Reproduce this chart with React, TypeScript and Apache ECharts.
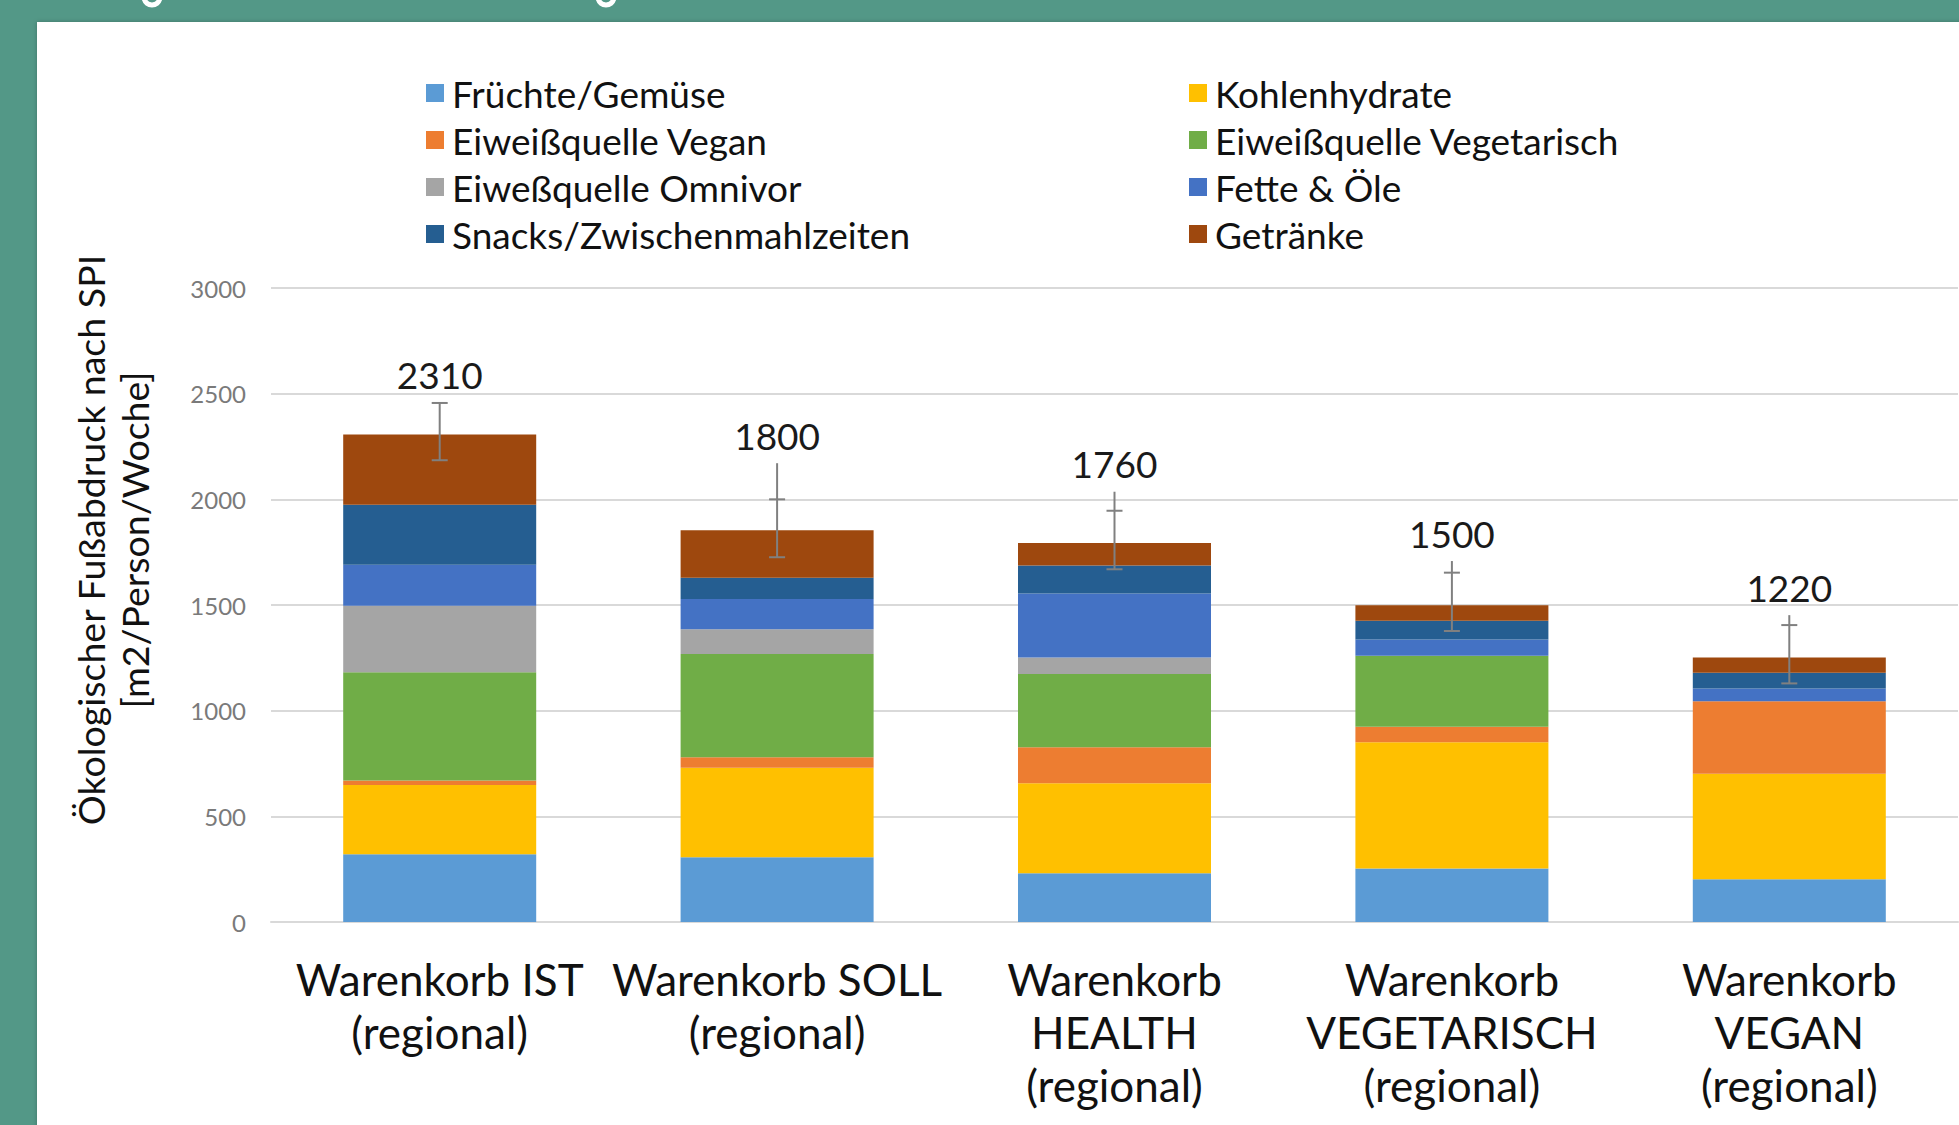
import React, { useEffect, useRef } from "react";
import * as echarts from "echarts";

const categories = [
  "Warenkorb IST\n(regional)",
  "Warenkorb SOLL\n(regional)",
  "Warenkorb\nHEALTH\n(regional)",
  "Warenkorb\nVEGETARISCH\n(regional)",
  "Warenkorb\nVEGAN\n(regional)",
];
const fruechte = [320, 306, 231, 253, 202];
const kohlenhydrate = [328, 424, 425, 597, 500];
const eiweissVegan = [21, 49, 171, 74, 343];
const eiweissVegetarisch = [513, 489, 347, 336, 0];
const eiweissOmnivor = [315, 117, 77, 0, 0];
const fette = [193, 143, 304, 77, 60];
const snacks = [284, 101, 132, 88, 74];
const getraenke = [333, 225, 106, 74, 73];
const totalLabels = [2310, 1800, 1760, 1500, 1220];
const errLow = [2185, 1726, 1669, 1377, 1129];
const errCap = [2456, 2000, 1946, 1653, 1405];
const errHigh = [2456, 2171, 2036, 1708, 1452];
const yTicks = { min: 0, max: 3000, interval: 500 };

const FONT = "Lato";

const seriesDefs = [
  { name: "Früchte/Gemüse", data: fruechte, color: "#5B9BD5" },
  { name: "Kohlenhydrate", data: kohlenhydrate, color: "#FFC000" },
  { name: "Eiweißquelle Vegan", data: eiweissVegan, color: "#ED7D31" },
  { name: "Eiweißquelle Vegetarisch", data: eiweissVegetarisch, color: "#70AD47" },
  { name: "Eiweßquelle Omnivor", data: eiweissOmnivor, color: "#A5A5A5" },
  { name: "Fette & Öle", data: fette, color: "#4472C4" },
  { name: "Snacks/Zwischenmahlzeiten", data: snacks, color: "#255E91" },
  { name: "Getränke", data: getraenke, color: "#9E480E" },
];

const legendLeft = ["Früchte/Gemüse", "Eiweißquelle Vegan", "Eiweßquelle Omnivor", "Snacks/Zwischenmahlzeiten"];
const legendRight = ["Kohlenhydrate", "Eiweißquelle Vegetarisch", "Fette & Öle", "Getränke"];

export default function App() {
  const ref = useRef<HTMLDivElement>(null);
  useEffect(() => {
    if (!ref.current) return;
    const chart = echarts.init(ref.current, null, { renderer: "svg" });
    const legendCommon = {
      orient: "vertical",
      top: 69,
      itemWidth: 18,
      itemHeight: 18,
      itemGap: 9,
      icon: "rect",
      selectedMode: false,
      textStyle: { fontFamily: FONT, fontSize: 37, color: "#111", lineHeight: 38, padding: [0, 0, 0, 3] },
    };
    const option: any = {
      animation: false,
      backgroundColor: "#539887",
      graphic: [
        {
          type: "rect",
          z: -10,
          shape: { x: 37, y: 22, width: 1930, height: 1110 },
          style: { fill: "#ffffff", shadowBlur: 4, shadowColor: "rgba(0,0,0,0.25)" },
        },
        {
          type: "arc",
          shape: { cx: 152, cy: -3, r: 8, startAngle: 0.2, endAngle: Math.PI - 0.2 },
          style: { stroke: "#ffffff", lineWidth: 5, fill: null },
        },
        {
          type: "arc",
          shape: { cx: 606, cy: -3, r: 8, startAngle: 0.2, endAngle: Math.PI - 0.2 },
          style: { stroke: "#ffffff", lineWidth: 5, fill: null },
        },
        {
          type: "text",
          x: 90,
          y: 540,
          rotation: Math.PI / 2,
          style: {
            text: "Ökologischer Fußabdruck nach SPI",
            fontFamily: FONT,
            fontSize: 37.5,
            fill: "#111",
            textAlign: "center",
            textVerticalAlign: "middle",
          },
        },
        {
          type: "text",
          x: 134,
          y: 540,
          rotation: Math.PI / 2,
          style: {
            text: "[m2/Person/Woche]",
            fontFamily: FONT,
            fontSize: 37.5,
            fill: "#111",
            textAlign: "center",
            textVerticalAlign: "middle",
          },
        },
      ],
      legend: [
        { ...legendCommon, left: 421, data: legendLeft },
        { ...legendCommon, left: 1184, data: legendRight },
      ],
      grid: { left: 271, right: 1, top: 288, bottom: 203 },
      xAxis: {
        type: "category",
        data: categories,
        axisTick: { show: false },
        axisLine: { show: true, lineStyle: { color: "#d9d9d9", width: 2 } },
        axisLabel: {
          interval: 0,
          hideOverlap: false,
          fontFamily: FONT,
          fontSize: 44,
          lineHeight: 53,
          color: "#111",
          margin: 30,
          verticalAlign: "top",
        },
      },
      yAxis: {
        type: "value",
        ...yTicks,
        axisLine: { show: false },
        axisTick: { show: false },
        splitLine: { lineStyle: { color: "#d9d9d9", width: 2 } },
        axisLabel: {
          fontFamily: FONT,
          fontSize: 24,
          color: "#7a7a7a",
          margin: 25,
          formatter: (v: number) => String(v),
        },
      },
      series: [
        ...seriesDefs.map((s) => ({
          name: s.name,
          type: "bar",
          stack: "total",
          barWidth: 193,
          data: s.data,
          itemStyle: { color: s.color },
        })),
        {
          type: "custom",
          name: "err",
          z: 10,
          encode: { x: 0, y: [1, 2, 3] },
          data: categories.map((_, i) => [i, errLow[i], errCap[i], errHigh[i], totalLabels[i]]),
          renderItem: (params: any, api: any) => {
            const xi = api.value(0);
            const low = api.coord([xi, api.value(1)]);
            const cap = api.coord([xi, api.value(2)]);
            const high = api.coord([xi, api.value(3)]);
            const cx = low[0];
            const hw = 8;
            const st = { stroke: "#808080", lineWidth: 2 };
            return {
              type: "group",
              children: [
                { type: "line", shape: { x1: cx, y1: high[1], x2: cx, y2: low[1] }, style: st },
                { type: "line", shape: { x1: cx - hw, y1: cap[1], x2: cx + hw, y2: cap[1] }, style: st },
                { type: "line", shape: { x1: cx - hw, y1: low[1], x2: cx + hw, y2: low[1] }, style: st },
                {
                  type: "text",
                  style: {
                    text: String(api.value(4)),
                    x: cx,
                    y: high[1] - 28,
                    textAlign: "center",
                    textVerticalAlign: "middle",
                    fontFamily: FONT,
                    fontSize: 37,
                    fill: "#1a1a1a",
                  },
                },
              ],
            };
          },
        },
      ],
    };
    chart.setOption(option);
    return () => chart.dispose();
  }, []);
  return (
    <div
      ref={ref}
      style={{ position: "fixed", left: 0, top: 0, width: 1959, height: 1125 }}
    />
  );
}
